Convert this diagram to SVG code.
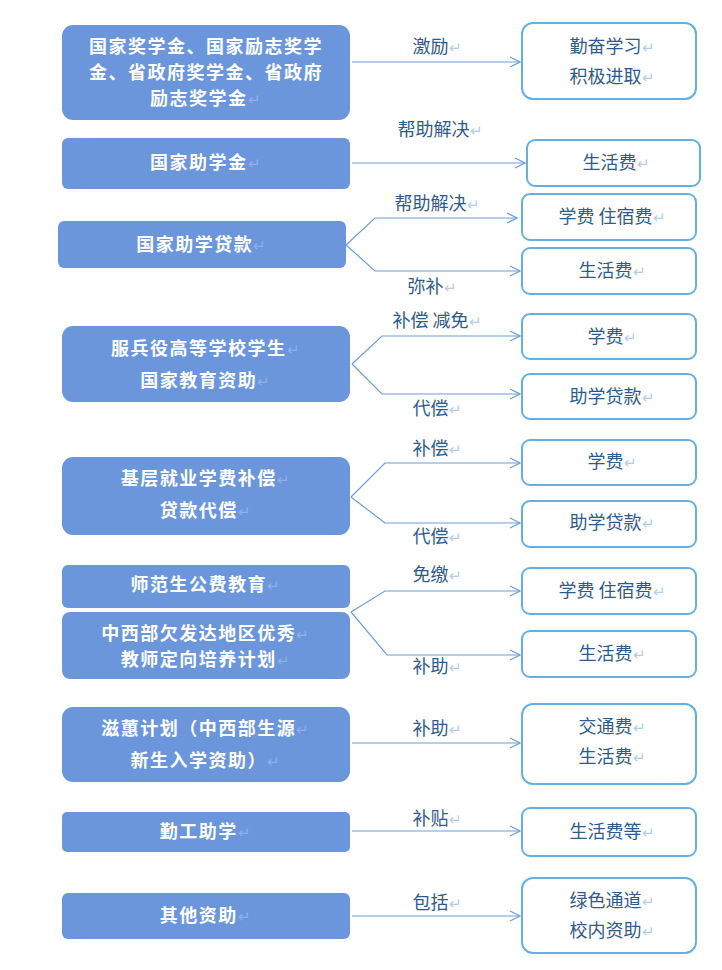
<svg xmlns="http://www.w3.org/2000/svg" width="722" height="970" viewBox="0 0 722 970">
<defs>
<style>
.l{fill:#6b96dc;}
.r{fill:#fff;stroke:#64b0e2;stroke-width:2;}
.lt{font-family:"Noto Sans CJK SC","Liberation Sans",sans-serif;font-size:18px;font-weight:bold;fill:#fff;text-anchor:middle;letter-spacing:1.5px;}
.rt{font-family:"Noto Sans CJK SC","Liberation Sans",sans-serif;font-size:18px;fill:#2f5b8c;text-anchor:middle;}
.e{fill:#b4cdee;font-weight:normal;font-size:15px;}
.lt .e{fill:#8fb0e6;}
.c path{fill:none;stroke:#6d9ed8;stroke-width:1.2;}
</style>
<marker id="a" markerWidth="12" markerHeight="12" refX="11" refY="6" orient="auto" markerUnits="userSpaceOnUse"><path d="M1,1 L11,6 L1,11" fill="none" stroke="#6d9ed8" stroke-width="1.2"/></marker>
</defs>
<rect width="722" height="970" fill="#fff"/>
<g class="c">
<path d="M352,62H520" marker-end="url(#a)"/>
<path d="M352,163H525" marker-end="url(#a)"/>
<path d="M346,245L375,218H517" marker-end="url(#a)"/>
<path d="M346,245L375,271H520" marker-end="url(#a)"/>
<path d="M352,364L382,336H520" marker-end="url(#a)"/>
<path d="M352,364L382,394H520" marker-end="url(#a)"/>
<path d="M351,497L385,463H520" marker-end="url(#a)"/>
<path d="M351,497L385,523H520" marker-end="url(#a)"/>
<path d="M351,612L385,591H520" marker-end="url(#a)"/>
<path d="M351,612L387,655H520" marker-end="url(#a)"/>
<path d="M352,743H520" marker-end="url(#a)"/>
<path d="M352,831H520" marker-end="url(#a)"/>
<path d="M352,916H520" marker-end="url(#a)"/>
<g class="rt">
<text x="437" y="53">激励<tspan class="e">↵</tspan></text>
<text x="440" y="136">帮助解决<tspan class="e">↵</tspan></text>
<text x="437" y="210">帮助解决<tspan class="e">↵</tspan></text>
<text x="432" y="293">弥补<tspan class="e">↵</tspan></text>
<text x="437" y="327">补偿  减免<tspan class="e">↵</tspan></text>
<text x="437" y="415">代偿<tspan class="e">↵</tspan></text>
<text x="437" y="455">补偿<tspan class="e">↵</tspan></text>
<text x="437" y="543">代偿<tspan class="e">↵</tspan></text>
<text x="437" y="581">免缴<tspan class="e">↵</tspan></text>
<text x="437" y="673">补助<tspan class="e">↵</tspan></text>
<text x="437" y="735">补助<tspan class="e">↵</tspan></text>
<text x="437" y="825">补贴<tspan class="e">↵</tspan></text>
<text x="437" y="909">包括<tspan class="e">↵</tspan></text>
</g>
</g>
<g id="n1"><rect class="l" x="62" y="25" width="288" height="95" rx="11"/><text class="lt" x="206"><tspan x="206" y="53">国家奖学金、国家励志奖学</tspan><tspan x="206" y="79">金、省政府奖学金、省政府</tspan><tspan x="206" y="105">励志奖学金<tspan class="e">↵</tspan></tspan></text></g>
<g id="n2"><rect class="l" x="62" y="138" width="288" height="51" rx="6"/><text class="lt" x="206" y="169">国家助学金<tspan class="e">↵</tspan></text></g>
<g id="n3"><rect class="l" x="58" y="221" width="288" height="47" rx="6"/><text class="lt" x="202" y="251">国家助学贷款<tspan class="e">↵</tspan></text></g>
<g id="n4"><rect class="l" x="62" y="326" width="288" height="76" rx="11"/><text class="lt"><tspan x="206" y="355">服兵役高等学校学生<tspan class="e">↵</tspan></tspan><tspan x="206" y="387">国家教育资助<tspan class="e">↵</tspan></tspan></text></g>
<g id="n5"><rect class="l" x="62" y="457" width="288" height="78" rx="11"/><text class="lt"><tspan x="206" y="485">基层就业学费补偿<tspan class="e">↵</tspan></tspan><tspan x="206" y="517">贷款代偿<tspan class="e">↵</tspan></tspan></text></g>
<g id="n6"><rect class="l" x="62" y="565" width="288" height="43" rx="6"/><text class="lt" x="206" y="591">师范生公费教育<tspan class="e">↵</tspan></text></g>
<g id="n7"><rect class="l" x="62" y="612" width="288" height="67" rx="8"/><text class="lt"><tspan x="206" y="640">中西部欠发达地区优秀<tspan class="e">↵</tspan></tspan><tspan x="206" y="666">教师定向培养计划<tspan class="e">↵</tspan></tspan></text></g>
<g id="n8"><rect class="l" x="62" y="707" width="288" height="75" rx="11"/><text class="lt"><tspan x="206" y="735">滋蕙计划（中西部生源<tspan class="e">↵</tspan></tspan><tspan x="206" y="767">新生入学资助）<tspan class="e">↵</tspan></tspan></text></g>
<g id="n9"><rect class="l" x="62" y="812" width="288" height="40" rx="5"/><text class="lt" x="206" y="838">勤工助学<tspan class="e">↵</tspan></text></g>
<g id="n10"><rect class="l" x="62" y="893" width="288" height="46" rx="6"/><text class="lt" x="206" y="922">其他资助<tspan class="e">↵</tspan></text></g>
<g class="rt">
<g id="r1"><rect class="r" x="522" y="23" width="174" height="76" rx="11"/><text><tspan x="612" y="53">勤奋学习<tspan class="e">↵</tspan></tspan><tspan x="612" y="83">积极进取<tspan class="e">↵</tspan></tspan></text></g>
<g id="r2"><rect class="r" x="527" y="140" width="173" height="46" rx="8"/><text x="616" y="169">生活费<tspan class="e">↵</tspan></text></g>
<g id="r3"><rect class="r" x="522" y="194" width="174" height="46" rx="8"/><text x="612" y="223">学费  住宿费<tspan class="e">↵</tspan></text></g>
<g id="r4"><rect class="r" x="522" y="248" width="174" height="46" rx="8"/><text x="612" y="277">生活费<tspan class="e">↵</tspan></text></g>
<g id="r5"><rect class="r" x="522" y="314" width="174" height="45" rx="8"/><text x="612" y="343">学费<tspan class="e">↵</tspan></text></g>
<g id="r6"><rect class="r" x="522" y="374" width="174" height="45" rx="8"/><text x="612" y="403">助学贷款<tspan class="e">↵</tspan></text></g>
<g id="r7"><rect class="r" x="522" y="440" width="174" height="45" rx="8"/><text x="612" y="468">学费<tspan class="e">↵</tspan></text></g>
<g id="r8"><rect class="r" x="522" y="501" width="174" height="46" rx="8"/><text x="612" y="529">助学贷款<tspan class="e">↵</tspan></text></g>
<g id="r9"><rect class="r" x="522" y="568" width="174" height="46" rx="8"/><text x="612" y="597">学费  住宿费<tspan class="e">↵</tspan></text></g>
<g id="r10"><rect class="r" x="522" y="631" width="174" height="46" rx="8"/><text x="612" y="660">生活费<tspan class="e">↵</tspan></text></g>
<g id="r11"><rect class="r" x="522" y="704" width="174" height="80" rx="11"/><text><tspan x="612" y="733">交通费<tspan class="e">↵</tspan></tspan><tspan x="612" y="763">生活费<tspan class="e">↵</tspan></tspan></text></g>
<g id="r12"><rect class="r" x="522" y="808" width="174" height="48" rx="8"/><text x="612" y="838">生活费等<tspan class="e">↵</tspan></text></g>
<g id="r13"><rect class="r" x="522" y="878" width="174" height="75" rx="11"/><text><tspan x="612" y="907">绿色通道<tspan class="e">↵</tspan></tspan><tspan x="612" y="937">校内资助<tspan class="e">↵</tspan></tspan></text></g>
</g>
</svg>
